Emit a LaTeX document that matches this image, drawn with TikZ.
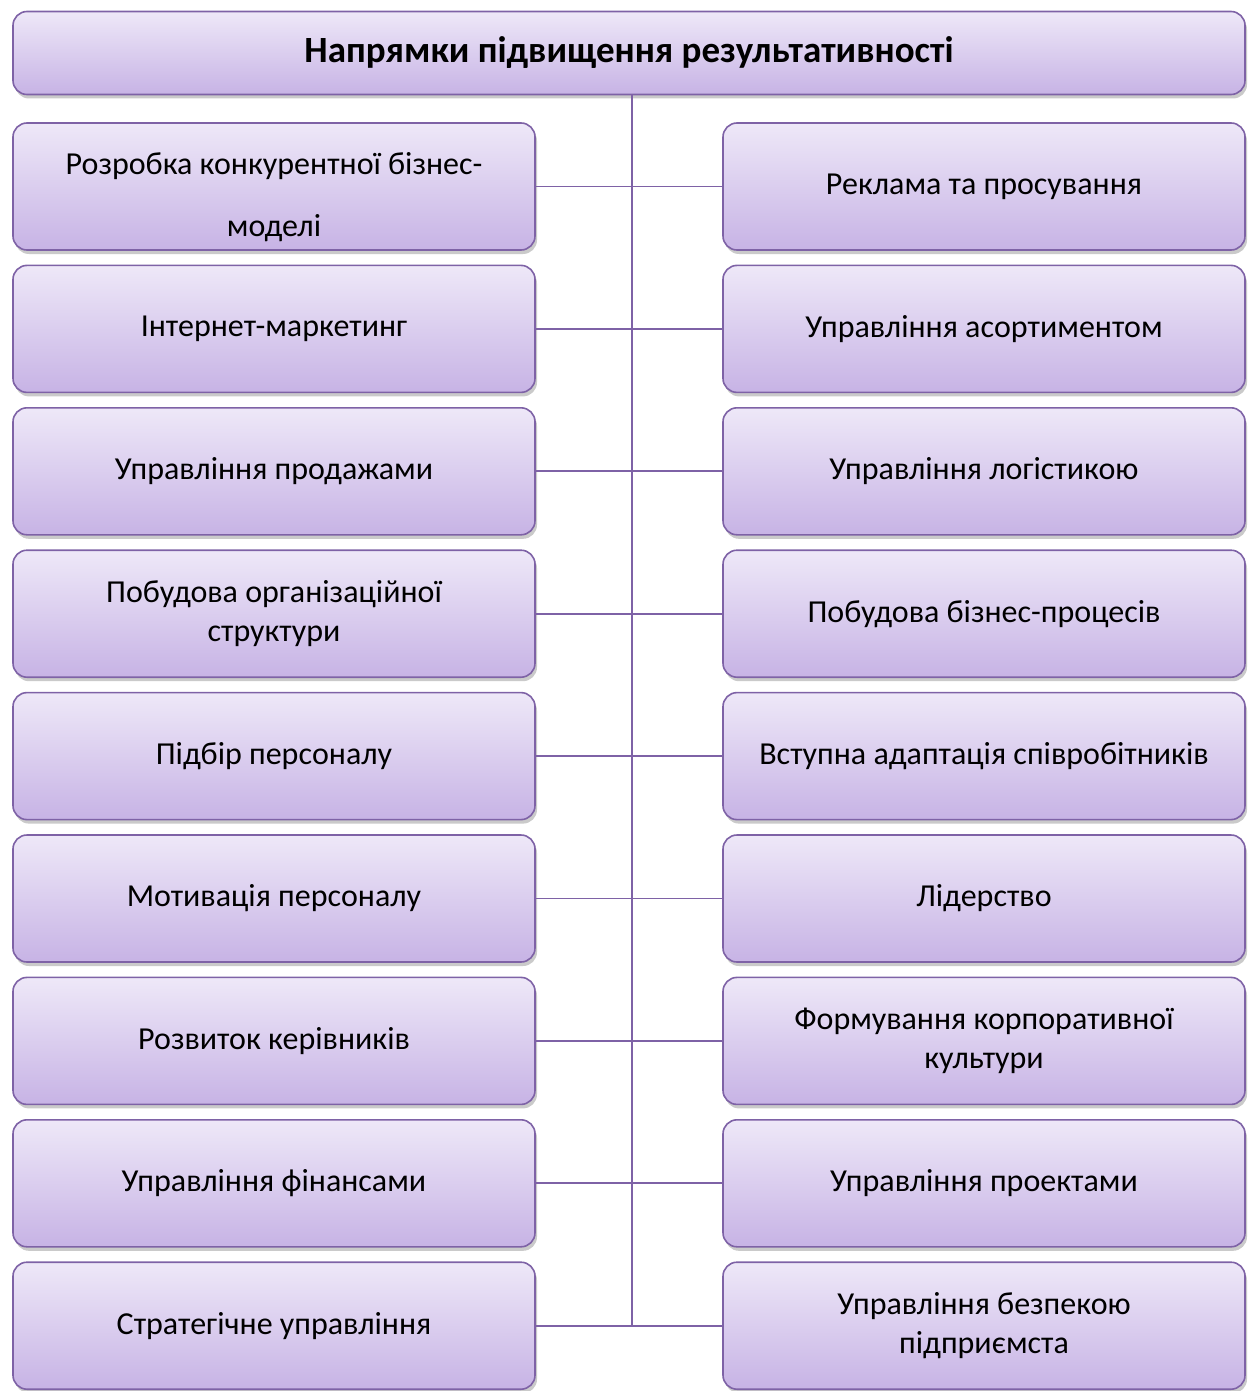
\documentclass[tikz,border=0pt]{standalone}
\usepackage{fontspec}
\setmainfont{Carlito}
\usepackage{xcolor}
\usepackage{tikz}
\usetikzlibrary{positioning,shadows}

\definecolor{boxline}{HTML}{7E62A6}
\definecolor{boxtop}{HTML}{EEE8F8}
\definecolor{boxbot}{HTML}{C7B3E5}

\tikzset{
  dirbox/.style={draw=boxline, line width=1.6pt, rounded corners=14pt,
    top color=boxtop, bottom color=boxbot,
    drop shadow={shadow xshift=2pt, shadow yshift=-4pt, opacity=0.35, fill=black!60},
    minimum width=522pt, minimum height=127pt, align=center,
    font=\fontsize{32}{39}\selectfont},
  link/.style={draw=boxline, line width=1.8pt}
}

\begin{document}
\begin{tikzpicture}[x=1pt, y=1pt, node distance=13.8pt and 186.4pt]
  \useasboundingbox (0,0) rectangle (1252,-1391);
  \node[dirbox, minimum width=1232pt, minimum height=83pt, font=\fontsize{37}{40}\selectfont\bfseries] (title) at (629,-53) {Напрямки підвищення результативності};

  % left column
  \node[dirbox] (l1) at (274,-186.5) {\rule{0pt}{44pt}Розробка конкурентної бізнес-\\[23pt]моделі};
  \node[dirbox, below=of l1] (l2) {Інтернет-маркетинг};
  \node[dirbox, below=of l2] (l3) {Управління продажами};
  \node[dirbox, below=of l3] (l4) {Побудова організаційної\\структури};
  \node[dirbox, below=of l4] (l5) {Підбір персоналу};
  \node[dirbox, below=of l5] (l6) {Мотивація персоналу};
  \node[dirbox, below=of l6] (l7) {Розвиток керівників};
  \node[dirbox, below=of l7] (l8) {Управління фінансами};
  \node[dirbox, below=of l8] (l9) {Стратегічне управління};

  % right column
  \node[dirbox, right=of l1] (r1) {Реклама та просування};
  \node[dirbox, right=of l2] (r2) {Управління асортиментом};
  \node[dirbox, right=of l3] (r3) {Управління логістикою};
  \node[dirbox, right=of l4] (r4) {Побудова бізнес-процесів};
  \node[dirbox, right=of l5] (r5) {Вступна адаптація співробітників};
  \node[dirbox, right=of l6] (r6) {Лідерство};
  \node[dirbox, right=of l7] (r7) {Формування корпоративної\\культури};
  \node[dirbox, right=of l8] (r8) {Управління проектами};
  \node[dirbox, right=of l9] (r9) {Управління безпекою\\підприємста};

  \coordinate (trunk) at (632,-53);
  \coordinate (trunkend) at (trunk |- l9.east);

  % connectors
  \draw[link] (trunk |- title.south) -- (trunkend);
  \draw[link] (l1) -- (r1);
  \draw[link] (l2) -- (r2);
  \draw[link] (l3) -- (r3);
  \draw[link] (l4) -- (r4);
  \draw[link] (l5) -- (r5);
  \draw[link] (l6) -- (r6);
  \draw[link] (l7) -- (r7);
  \draw[link] (l8) -- (r8);
  \draw[link] (l9) -- (r9);
\end{tikzpicture}
\end{document}
